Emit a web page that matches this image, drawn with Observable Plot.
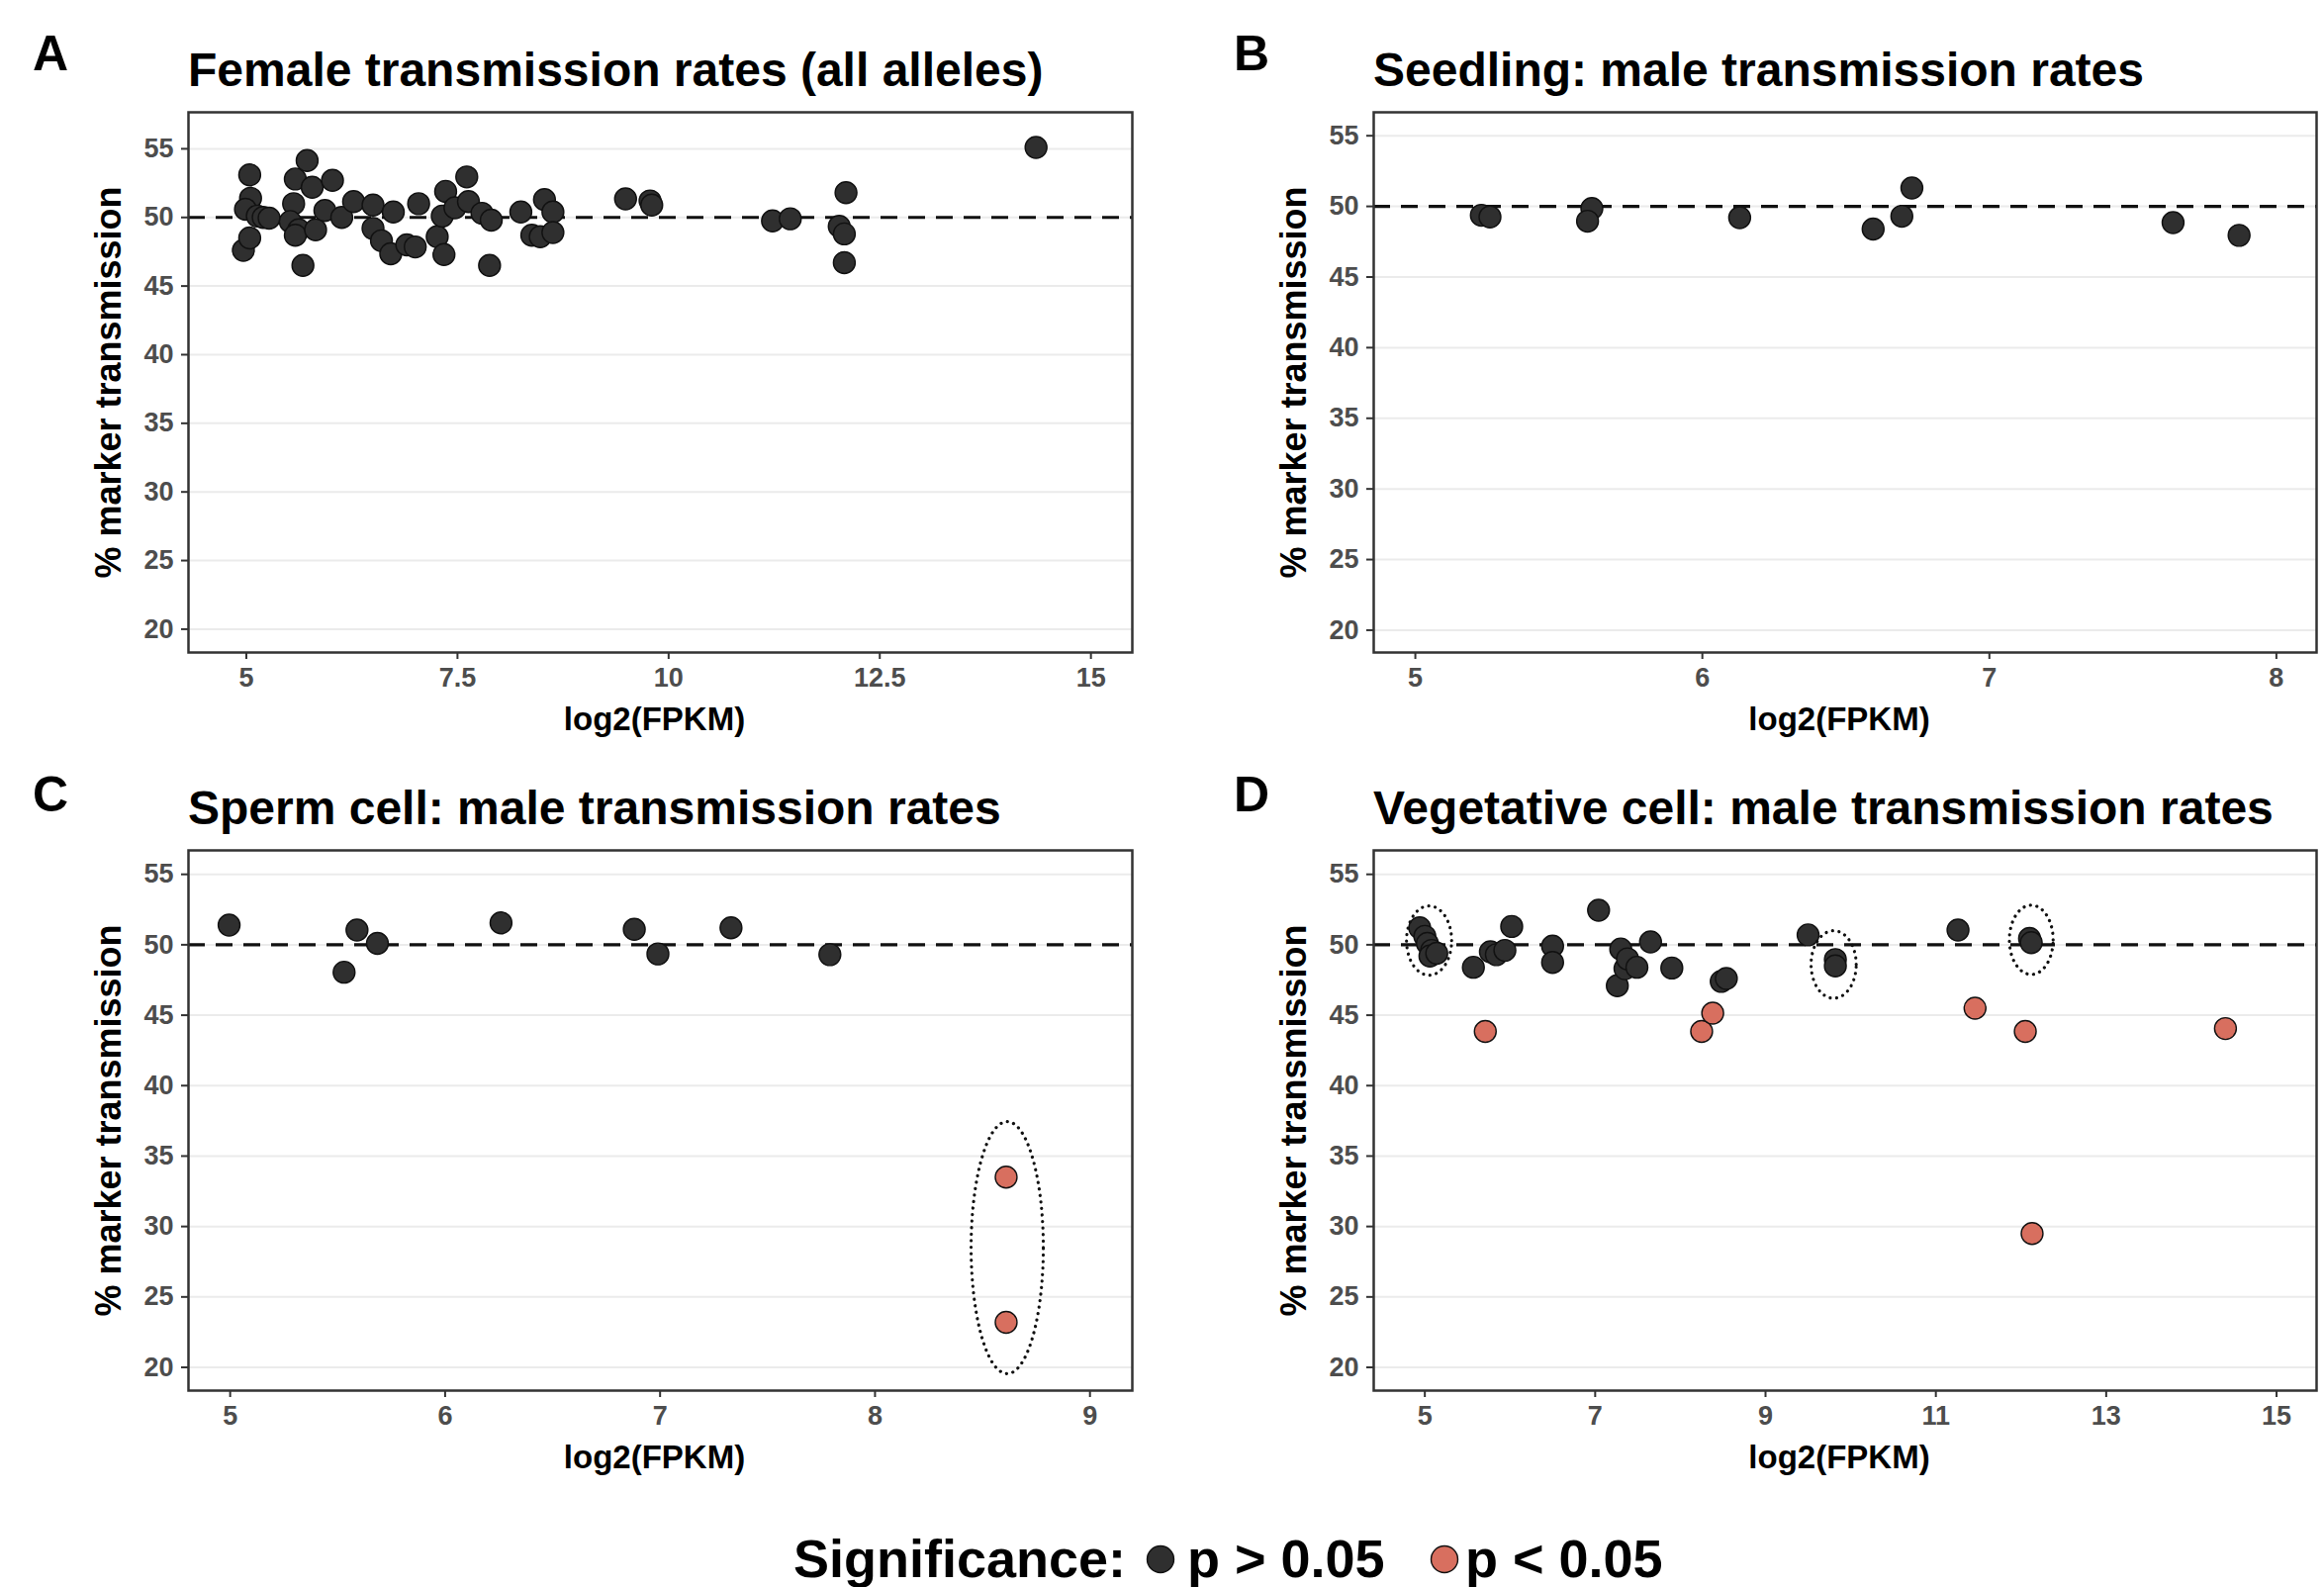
<!DOCTYPE html>
<html>
<head>
<meta charset="utf-8">
<script src="https://cdn.jsdelivr.net/npm/d3@7"></script>
<script src="https://cdn.jsdelivr.net/npm/@observablehq/plot@0.6"></script>
<style>
  html, body { margin: 0; padding: 0; background: #fff; }
  #fig { position: relative; width: 2349px; height: 1604px; overflow: hidden;
         font-family: "Liberation Sans", Arial, Helvetica, sans-serif; color: #000; }
  .tag { position: absolute; font-weight: bold; font-size: 50px; line-height: 1; }
  .ttl { position: absolute; font-weight: bold; font-size: 48px; line-height: 1; white-space: nowrap; }
  .panel { position: absolute; }
  .leg { position: absolute; font-weight: bold; font-size: 54px; line-height: 1; white-space: nowrap; }
  .legdot { position: absolute; }
</style>
</head>
<body>
<div id="fig"></div>
<script>
// Shared axis ticks
const yTicks = [20, 25, 30, 35, 40, 45, 50, 55];
const ticksA = [5, 7.5, 10, 12.5, 15];
const ticksB = [5, 6, 7, 8];
const ticksC = [5, 6, 7, 8, 9];
const ticksD = [5, 7, 9, 11, 13, 15];

const xLabel = "log2(FPKM)";
const yLabel = "% marker transmission";

// A: female transmission (all alleles)
const femaleFPKM = [4.965, 5.04, 5.04, 5.05, 4.99, 5.13, 5.20, 5.27, 5.56, 5.58, 5.72, 5.78, 6.02,
  5.52, 5.62, 5.58, 5.82, 5.67, 5.93, 6.13, 6.27, 6.50, 6.74, 6.50, 6.60, 6.71, 6.90, 7.00, 7.04,
  7.26, 7.34, 7.32, 7.36, 7.47, 7.61, 7.63, 7.79, 7.90, 7.88, 8.25, 8.38, 8.48, 8.53, 8.63, 8.63,
  9.49, 9.78, 9.80, 11.23, 11.44, 12.10, 12.02, 12.08, 12.08, 14.35];
const femaleRate = [47.6, 48.5, 53.1, 51.4, 50.6, 50.1, 50.0, 49.95, 51.0, 52.8, 54.15, 52.2, 52.7,
  49.7, 49.1, 48.7, 49.1, 46.5, 50.5, 50.0, 51.15, 50.9, 50.4, 49.2, 48.3, 47.35, 48.0, 47.85, 51.0,
  48.6, 47.3, 50.1, 51.9, 50.7, 52.95, 51.15, 50.3, 49.8, 46.5, 50.4, 48.7, 48.6, 51.3, 50.4, 48.9,
  51.35, 51.2, 50.9, 49.75, 49.9, 51.8, 49.35, 48.8, 46.7, 55.1];

// B: seedling, male transmission
const seedlingFPKM = [5.23, 5.26, 5.615, 5.60, 6.13, 6.595, 6.695, 6.73, 7.64, 7.87];
const seedlingRate = [49.37, 49.25, 49.85, 48.95, 49.2, 48.4, 49.3, 51.3, 48.85, 47.95];

// C: sperm cell, male transmission
const spermFPKM = [4.995, 5.53, 5.59, 5.685, 6.26, 6.88, 6.99, 7.33, 7.79, 8.61, 8.61];
const spermRate = [51.4, 48.05, 51.05, 50.1, 51.55, 51.1, 49.35, 51.2, 49.3, 33.5, 23.2];
const spermSig  = ["ns", "ns", "ns", "ns", "ns", "ns", "ns", "ns", "ns", "sig", "sig"];

// D: vegetative cell, male transmission
const vegFPKM = [4.94, 5.00, 5.03, 5.08, 5.06, 5.14, 5.57, 5.71, 5.77, 5.84, 5.94, 6.02, 6.50, 6.50,
  7.04, 7.26, 7.30, 7.35, 7.38, 7.49, 7.65, 7.90, 8.25, 8.38, 8.48, 8.54, 9.50, 9.82, 9.82,
  11.26, 11.46, 12.05, 12.10, 12.12, 12.13, 14.4];
const vegRate = [51.2, 50.6, 50.1, 49.6, 49.2, 49.4, 48.4, 43.85, 49.5, 49.3, 49.6, 51.3, 49.9, 48.75,
  52.45, 47.1, 49.7, 48.3, 49.0, 48.4, 50.2, 48.35, 43.85, 45.15, 47.4, 47.6, 50.7, 48.95, 48.5,
  51.05, 45.5, 43.85, 50.45, 50.15, 29.5, 44.05];
const vegSig = ["ns", "ns", "ns", "ns", "ns", "ns", "ns", "sig", "ns", "ns", "ns", "ns", "ns", "ns",
  "ns", "ns", "ns", "ns", "ns", "ns", "ns", "ns", "sig", "sig", "ns", "ns", "ns", "ns", "ns",
  "ns", "sig", "sig", "ns", "ns", "sig", "sig"];

// Dotted highlight ellipses: centre and radii in data units
const spermHighlights = [{x: 8.615, y: 28.5, rx: 0.168, ry: 8.95}];
const vegHighlights = [
  {x: 5.05, y: 50.3, rx: 0.265, ry: 2.46},
  {x: 9.80, y: 48.6, rx: 0.265, ry: 2.4},
  {x: 12.12, y: 50.35, rx: 0.257, ry: 2.46}
];

const sigLevels = ["ns", "sig"];
const sigColors = ["#2f2f2f", "#d86f5f"];

const FONT = '"Liberation Sans", Arial, Helvetica, sans-serif';
const ML = 190, MR = 8, MT = 20, MB = 110;

function panel({fpkm, rate, sig, xDomain, yDomain, xTicks, highlights, frameW, frameH}) {
  const rows = fpkm.map((x, i) => ({x, y: rate[i], sig: sig ? sig[i] : "ns"}));
  const outline = (highlights || []).flatMap((e, k) =>
    d3.range(0, 121).map(j => {
      const t = (j / 120) * 2 * Math.PI;
      return {k, x: e.x + e.rx * Math.cos(t), y: e.y + e.ry * Math.sin(t)};
    }));
  return Plot.plot({
    width: frameW + ML + MR,
    height: frameH + MT + MB,
    marginLeft: ML, marginRight: MR, marginTop: MT, marginBottom: MB,
    x: {domain: xDomain},
    y: {domain: yDomain},
    color: {domain: sigLevels, range: sigColors},
    style: {fontFamily: FONT, background: "transparent", overflow: "visible"},
    marks: [
      Plot.ruleY(yTicks, {stroke: "#ebebeb", strokeWidth: 2}),
      Plot.ruleY([50], {stroke: "#111", strokeWidth: 3.2, strokeDasharray: "17,11"}),
      Plot.dot(rows, {x: "x", y: "y", fill: "sig", r: 11, stroke: "#111", strokeWidth: 1.4}),
      Plot.line(outline, {x: "x", y: "y", z: "k", stroke: "#111", strokeWidth: 3.2,
        strokeDasharray: "0.1,6.5", strokeLinecap: "round", curve: "linear-closed"}),
      Plot.axisX(xTicks, {tickSize: 7, tickPadding: 8, fontSize: 27, fontWeight: "bold",
        fill: "#4d4d4d", stroke: "#333", strokeWidth: 2, label: null, tickFormat: d => String(d)}),
      Plot.axisY(yTicks, {tickSize: 7, tickPadding: 8, fontSize: 27, fontWeight: "bold",
        fill: "#4d4d4d", stroke: "#333", strokeWidth: 2, label: null, tickFormat: d => String(d)}),
      Plot.text([xLabel], {frameAnchor: "bottom", dx: -6, dy: 68, text: d => d, fontSize: 33,
        fontWeight: "bold", fill: "#000", textAnchor: "middle", lineAnchor: "middle"}),
      Plot.text([yLabel], {frameAnchor: "left", dx: -80, rotate: -90, text: d => d, fontSize: 36,
        fontWeight: "bold", fill: "#000", textAnchor: "middle", lineAnchor: "middle"}),
      Plot.frame({stroke: "#333", strokeWidth: 2.5})
    ]
  });
}

const fig = document.getElementById("fig");

function place(el, left, top, cls) {
  const wrap = document.createElement("div");
  wrap.className = cls;
  wrap.style.left = left + "px";
  wrap.style.top = top + "px";
  wrap.appendChild(el);
  fig.appendChild(wrap);
}
function label(text, left, top, cls) {
  const d = document.createElement("div");
  d.className = cls;
  d.style.left = left + "px";
  d.style.top = top + "px";
  d.textContent = text;
  fig.appendChild(d);
}

// Panel frames (left/top of the plotting area)
const frames = {
  A: {left: 190, top: 113, w: 954, h: 546},
  B: {left: 1388, top: 113, w: 953, h: 546},
  C: {left: 190, top: 859, w: 954, h: 546},
  D: {left: 1388, top: 859, w: 953, h: 546}
};

const specs = [
  {id: "A", title: "Female transmission rates (all alleles)", fpkm: femaleFPKM, rate: femaleRate,
   xDomain: [4.315, 15.49], yDomain: [18.3, 57.66], xTicks: ticksA},
  {id: "B", title: "Seedling: male transmission rates", fpkm: seedlingFPKM, rate: seedlingRate,
   xDomain: [4.855, 8.14], yDomain: [18.42, 56.66], xTicks: ticksB},
  {id: "C", title: "Sperm cell: male transmission rates", fpkm: spermFPKM, rate: spermRate, sig: spermSig,
   xDomain: [4.806, 9.197], yDomain: [18.35, 56.7], xTicks: ticksC, highlights: spermHighlights},
  {id: "D", title: "Vegetative cell: male transmission rates", fpkm: vegFPKM, rate: vegRate, sig: vegSig,
   xDomain: [4.40, 15.47], yDomain: [18.35, 56.7], xTicks: ticksD, highlights: vegHighlights}
];

for (const s of specs) {
  const f = frames[s.id];
  const chart = panel({...s, frameW: f.w, frameH: f.h});
  place(chart, f.left - ML, f.top - MT, "panel");
  const row2 = s.id === "C" || s.id === "D";
  const tagLeft = s.id === "A" || s.id === "C" ? 33 : 1247;
  label(s.id, tagLeft, row2 ? 778 : 29, "tag");
  label(s.title, f.left, row2 ? 793 : 47, "ttl");
}

// Legend
label("Significance:", 802, 1548, "leg");
label("p > 0.05", 1200, 1548, "leg");
label("p < 0.05", 1481, 1548, "leg");
for (const [i, cx] of [[0, 1173], [1, 1460]]) {
  const ns = "http://www.w3.org/2000/svg";
  const svg = document.createElementNS(ns, "svg");
  svg.setAttribute("width", 32); svg.setAttribute("height", 32);
  const c = document.createElementNS(ns, "circle");
  c.setAttribute("cx", 16); c.setAttribute("cy", 16); c.setAttribute("r", 13.5);
  c.setAttribute("fill", sigColors[i]); c.setAttribute("stroke", "#111"); c.setAttribute("stroke-width", 1.4);
  svg.appendChild(c);
  const w = document.createElement("div");
  w.className = "legdot";
  w.style.left = (cx - 16) + "px";
  w.style.top = (1576 - 16) + "px";
  w.appendChild(svg);
  fig.appendChild(w);
}
</script>
</body>
</html>
